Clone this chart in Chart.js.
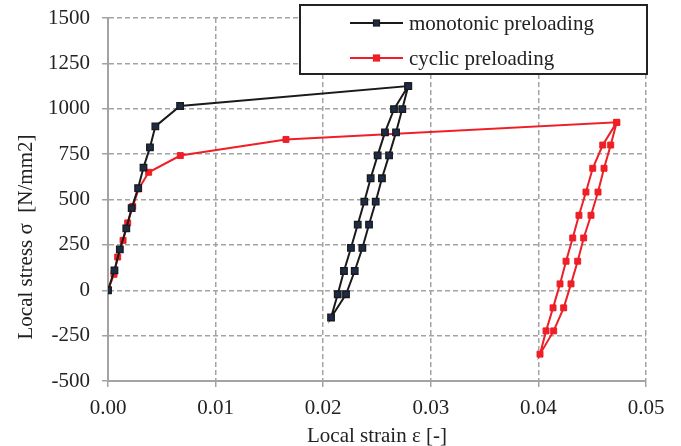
<!DOCTYPE html>
<html>
<head>
<meta charset="utf-8">
<script src="https://cdn.jsdelivr.net/npm/chart.js@4.4.1/dist/chart.umd.min.js"></script>
<style>
  body { margin: 0; background: #fff; }
  #wrap { width: 681px; height: 446px; }
</style>
</head>
<body>
<div id="wrap"><canvas id="stressStrain" width="681" height="446"></canvas></div>
<script>
// monotonic preloading: first loading, then one unload/reload loop
var monoStrain = [0, 0.0006, 0.0011, 0.0017, 0.0022, 0.0028, 0.0033, 0.0039, 0.0044, 0.0067, 0.0279,
     0.02735, 0.02677, 0.02612, 0.02546, 0.02488, 0.02426, 0.02364, 0.02293, 0.02212, 0.02073,
     0.02135, 0.02193, 0.02258, 0.02321, 0.02382, 0.02441, 0.02506, 0.02574, 0.02658, 0.0279];
var monoStress = [0, 110, 225, 341, 452, 563, 676, 787, 903, 1015, 1125,
     998, 870, 743, 617, 488, 362, 233, 106, -22, -150,
     -22, 106, 233, 362, 488, 617, 743, 870, 998, 1125];

// cyclic preloading
var cycStrain = [0, 0.00056, 0.0009, 0.0014, 0.00183, 0.0023, 0.00285, 0.00378, 0.00672, 0.01654, 0.04728,
     0.04672, 0.0461, 0.04554, 0.04489, 0.04421, 0.04365, 0.04303, 0.04235, 0.04142, 0.04015,
     0.04071, 0.04136, 0.04201, 0.04257, 0.04319, 0.04377, 0.04442, 0.04505, 0.04598, 0.04728];
var cycStress = [0, 88, 183, 275, 371, 462, 558, 650, 742, 831, 925,
     800, 672, 541, 413, 288, 160, 35, -97, -224, -352,
     -224, -97, 35, 160, 288, 413, 541, 672, 800, 925];

var seriesNames = ["monotonic preloading", "cyclic preloading"];

var xTickValues = [0, 0.01, 0.02, 0.03, 0.04, 0.05];
var xTickLabels = ["0.00", "0.01", "0.02", "0.03", "0.04", "0.05"];
var yTickValues = [-500, -250, 0, 250, 500, 750, 1000, 1250, 1500];
var yTickLabels = ["-500", "-250", "0", "250", "500", "750", "1000", "1250", "1500"];

var serif = '"Liberation Serif", "Times New Roman", serif';
var gridGray = "#a3a3a3";
var black = "#1a1a1a";
var navy = "#1c2c48";
var red = "#ee1f26";

function toPoints(xs, ys) {
     return xs.map(function (x, i) { return { x: x, y: ys[i] }; });
}

// legend box sits over the top of the plot and the y title is drawn by hand
var overlay = {
     id: 'overlay',
     afterDraw: function (chart) {
          var ctx = chart.ctx;
          ctx.save();
          ctx.fillStyle = "#fff";
          ctx.fillRect(300, 5, 347, 69);
          ctx.strokeStyle = "#222";
          ctx.lineWidth = 2;
          ctx.strokeRect(300, 5, 347, 69);

          var rows = [
               { y: 23, line: black, fill: navy, edge: black, text: seriesNames[0] },
               { y: 58, line: red, fill: red, edge: red, text: seriesNames[1] }
          ];
          rows.forEach(function (r) {
               ctx.strokeStyle = r.line;
               ctx.lineWidth = 2;
               ctx.beginPath();
               ctx.moveTo(350, r.y);
               ctx.lineTo(403, r.y);
               ctx.stroke();
               ctx.fillStyle = r.fill;
               ctx.fillRect(373.5, r.y - 3, 6, 6);
               ctx.strokeStyle = r.edge;
               ctx.lineWidth = 1.2;
               ctx.strokeRect(373.5, r.y - 3, 6, 6);
               ctx.fillStyle = "#222";
               ctx.font = "21px " + serif;
               ctx.textAlign = "left";
               ctx.textBaseline = "alphabetic";
               ctx.fillText(r.text, 409, r.y + 6.5);
          });

          ctx.translate(32, 237);
          ctx.rotate(-Math.PI / 2);
          ctx.fillStyle = "#222";
          ctx.font = "21px " + serif;
          ctx.textAlign = "center";
          ctx.textBaseline = "alphabetic";
          ctx.fillText("Local stress σ  [N/mm2]", 0, 0);
          ctx.restore();
     }
};

var ctxS = document.getElementById('stressStrain').getContext('2d');
var stressChart = new Chart(ctxS, {
     type: 'scatter',
     data: {
          datasets: [{
               label: seriesNames[0],
               data: toPoints(monoStrain, monoStress),
               showLine: true,
               borderColor: black,
               borderWidth: 2,
               pointStyle: 'rect',
               pointRadius: 4.6,
               pointBorderWidth: 1.3,
               pointBackgroundColor: navy,
               pointBorderColor: black
          }, {
               label: seriesNames[1],
               data: toPoints(cycStrain, cycStress),
               showLine: true,
               borderColor: red,
               borderWidth: 2,
               pointStyle: 'rect',
               pointRadius: 4.2,
               pointBorderWidth: 1,
               pointBackgroundColor: red,
               pointBorderColor: red
          }]
     },
     options: {
          responsive: false,
          animation: false,
          layout: { padding: { top: 18, right: 35, left: 0, bottom: 0 } },
          plugins: {
               legend: { display: false },
               tooltip: { enabled: false }
          },
          scales: {
               x: {
                    type: 'linear',
                    min: 0,
                    max: 0.05,
                    afterBuildTicks: function (scale) {
                         scale.ticks = xTickValues.map(function (v) { return { value: v }; });
                    },
                    afterFit: function (scale) { scale.height = 65; },
                    grid: { color: gridGray, lineWidth: 1.5, tickLength: 6 },
                    border: { display: true, color: gridGray, width: 2, dash: [5, 3] },
                    ticks: {
                         color: "#222",
                         padding: 9,
                         font: { family: serif, size: 21 },
                         maxRotation: 0,
                         autoSkip: false,
                         callback: function (value, i) { return xTickLabels[i]; }
                    },
                    title: {
                         display: true,
                         text: "Local strain ε [-]",
                         color: "#222",
                         padding: 0,
                         font: { family: serif, size: 21, lineHeight: 0.88 }
                    }
               },
               y: {
                    type: 'linear',
                    min: -500,
                    max: 1500,
                    afterBuildTicks: function (scale) {
                         scale.ticks = yTickValues.map(function (v) { return { value: v }; });
                    },
                    afterFit: function (scale) {
                         scale.width = 108;
                         scale.paddingTop = 0;
                         scale.paddingBottom = 0;
                    },
                    grid: { color: gridGray, lineWidth: 1.5, tickLength: 6 },
                    border: { display: true, color: gridGray, width: 2, dash: [5, 3] },
                    ticks: {
                         color: "#222",
                         padding: 12,
                         font: { family: serif, size: 21 },
                         autoSkip: false,
                         callback: function (value, i) { return yTickLabels[i]; }
                    }
               }
          }
     },
     plugins: [overlay]
});
</script>
</body>
</html>
